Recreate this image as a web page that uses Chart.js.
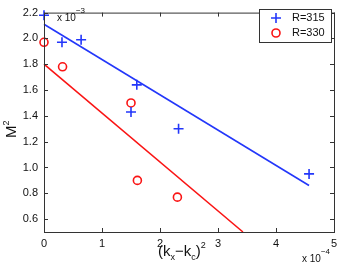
<!DOCTYPE html>
<html lang="en">
  <head>
    <meta charset="UTF-8" />
    <script src="https://cdn.jsdelivr.net/npm/chart.js"></script>
    <title>M2 vs (kx-kc)2</title>
    <style>
      html, body { margin: 0; padding: 0; background: #fff; }
      #wrap { width: 349px; height: 267px; }
    </style>
  </head>
  <body>
    <div id="wrap"><canvas id="myChart" width="349" height="267"></canvas></div>

    <script>
      // values in units of 1e-4 (x) and 1e-3 (y)
      const r315X = [0, 0.31, 0.64, 1.6, 1.5, 2.32, 4.57];
      const r315Y = [2.18, 1.97, 1.99, 1.64, 1.43, 1.30, 0.95];
      const r330X = [0, 0.32, 1.5, 1.61, 2.3];
      const r330Y = [1.97, 1.78, 1.50, 0.90, 0.77];
      // fitted lines, end points
      const fit315X = [0, 4.57];
      const fit315Y = [2.11, 0.86];
      const fit330X = [0, 3.43];
      const fit330Y = [1.80, 0.50];

      const xTicks = [0, 1, 2, 3, 4, 5];
      const yTicks = [0.6, 0.8, 1.0, 1.2, 1.4, 1.6, 1.8, 2.0, 2.2];

      const BLUE = "rgb(35,55,250)";
      const RED = "rgb(250,20,20)";
      const FONT = "Liberation Sans, Arial, sans-serif";

      const pts = (xs, ys) => xs.map((x, i) => ({ x: x, y: ys[i] }));

      // box, inside ticks, legend and extra labels (MATLAB look)
      const decor = {
        id: "decor",
        afterDraw(chart) {
          const c = chart.ctx;
          const a = chart.chartArea;
          const sx = chart.scales.x;
          const sy = chart.scales.y;
          c.save();
          c.strokeStyle = "#333";
          c.lineWidth = 1;
          c.strokeRect(a.left + 0.5, a.top + 0.5, a.right - a.left, a.bottom - a.top);
          c.beginPath();
          xTicks.forEach((v) => {
            const px = Math.round(sx.getPixelForValue(v)) + 0.5;
            c.moveTo(px, a.bottom); c.lineTo(px, a.bottom - 4);
            c.moveTo(px, a.top); c.lineTo(px, a.top + 4);
          });
          yTicks.forEach((v) => {
            const py = Math.round(sy.getPixelForValue(v)) + 0.5;
            c.moveTo(a.left, py); c.lineTo(a.left + 4, py);
            c.moveTo(a.right, py); c.lineTo(a.right - 4, py);
          });
          c.stroke();

          // legend
          const lx = 259, ly = 9, lw = 72, lh = 33;
          c.fillStyle = "#fff";
          c.fillRect(lx, ly, lw, lh);
          c.strokeStyle = "#333";
          c.strokeRect(lx + 0.5, ly + 0.5, lw, lh);
          c.lineWidth = 1.6;
          c.strokeStyle = BLUE;
          c.beginPath();
          c.moveTo(271, 18); c.lineTo(281, 18);
          c.moveTo(276, 13); c.lineTo(276, 23);
          c.stroke();
          c.strokeStyle = RED;
          c.beginPath();
          c.arc(276, 33, 4, 0, Math.PI * 2);
          c.stroke();
          c.fillStyle = "#111";
          c.font = "11px " + FONT;
          c.textBaseline = "middle";
          c.textAlign = "left";
          c.fillText("R=315", 292, 18);
          c.fillText("R=330", 292, 33);

          // exponents
          c.font = "10px " + FONT;
          c.textBaseline = "alphabetic";
          c.fillText("x 10", 57, 21);
          const we = c.measureText("x 10").width;
          c.fillText("x 10", 302, 262);
          c.font = "8px " + FONT;
          c.fillText("\u22123", 57 + we, 13);
          c.fillText("\u22124", 302 + we, 254);

          // axis titles
          c.font = "15px " + FONT;
          c.textAlign = "left";
          const x0 = 158;
          c.fillText("(k", x0, 256);
          const w1 = c.measureText("(k").width;
          c.font = "9px " + FONT;
          c.fillText("x", x0 + w1, 260);
          const w2 = c.measureText("x").width;
          c.font = "15px " + FONT;
          c.fillText("\u2212k", x0 + w1 + w2, 256);
          const w3 = c.measureText("\u2212k").width;
          c.font = "9px " + FONT;
          c.fillText("c", x0 + w1 + w2 + w3, 260);
          const w4 = c.measureText("c").width;
          c.font = "15px " + FONT;
          c.fillText(")", x0 + w1 + w2 + w3 + w4, 256);
          const w5 = c.measureText(")").width;
          c.font = "9px " + FONT;
          c.fillText("2", x0 + w1 + w2 + w3 + w4 + w5, 248);

          c.translate(16, 138);
          c.rotate(-Math.PI / 2);
          c.font = "15px " + FONT;
          c.fillText("M", 0, 0);
          const wm = c.measureText("M").width;
          c.font = "9px " + FONT;
          c.fillText("2", wm, -7);
          c.restore();
        },
      };

      const ctx = document.getElementById("myChart");
      const chart = new Chart(ctx, {
        type: "scatter",
        data: {
          datasets: [
            {
              label: "fit315",
              type: "line",
              data: pts(fit315X, fit315Y),
              borderColor: BLUE,
              borderWidth: 1.6,
              pointRadius: 0,
              fill: false,
            },
            {
              label: "fit330",
              type: "line",
              data: pts(fit330X, fit330Y),
              borderColor: RED,
              borderWidth: 1.6,
              pointRadius: 0,
              fill: false,
            },
            {
              label: "R=315",
              data: pts(r315X, r315Y),
              pointStyle: "cross",
              pointRadius: 5,
              borderColor: BLUE,
              borderWidth: 1.6,
            },
            {
              label: "R=330",
              data: pts(r330X, r330Y),
              pointStyle: "circle",
              pointRadius: 4,
              borderColor: RED,
              backgroundColor: "rgba(0,0,0,0)",
              borderWidth: 1.6,
            },
          ],
        },
        options: {
          responsive: false,
          animation: false,
          clip: false,
          layout: { padding: { top: 7, right: 15, left: 0, bottom: 0 } },
          plugins: { legend: { display: false }, tooltip: { enabled: false } },
          scales: {
            x: {
              type: "linear",
              min: 0,
              max: 5,
              grid: { display: false, drawTicks: false },
              border: { display: false },
              afterBuildTicks: (s) => { s.ticks = xTicks.map((v) => ({ value: v })); },
              afterFit: (s) => { s.height = 35; },
              ticks: { padding: 5, color: "#111", font: { family: FONT, size: 11 }, maxRotation: 0 },
            },
            y: {
              type: "linear",
              min: 0.5,
              max: 2.2,
              grid: { display: false, drawTicks: false },
              border: { display: false },
              afterBuildTicks: (s) => { s.ticks = yTicks.map((v) => ({ value: v })); },
              afterFit: (s) => { s.width = 44; },
              ticks: {
                padding: 6,
                color: "#111",
                font: { family: FONT, size: 11 },
                callback: (v) => Number(v).toFixed(1),
              },
            },
          },
        },
        plugins: [decor],
      });
    </script>
  </body>
</html>
